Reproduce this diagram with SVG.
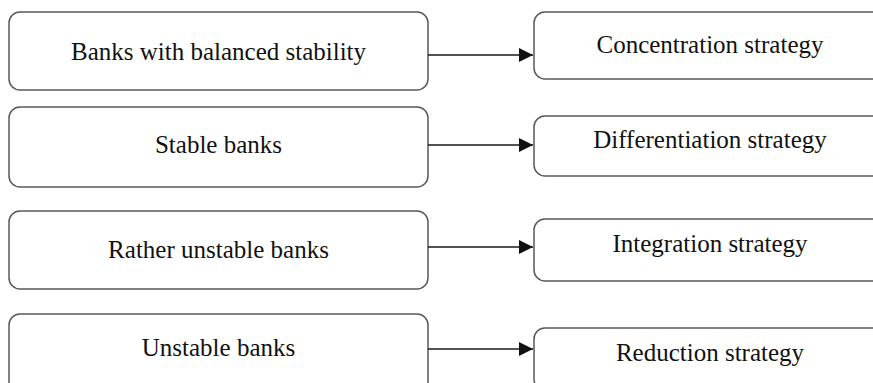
<svg xmlns="http://www.w3.org/2000/svg" width="873" height="383" viewBox="0 0 873 383">
  <style>
    .box { fill: #ffffff; stroke: #595959; stroke-width: 1.5; }
    .lbl { font-family: "Liberation Serif", "Times New Roman", serif; font-size: 25px; fill: #111111; text-anchor: middle; }
    .link { stroke: #1a1a1a; stroke-width: 1.4; fill: none; marker-end: url(#head); }
  </style>
  <defs>
    <marker id="head" markerUnits="userSpaceOnUse" markerWidth="15" markerHeight="15" refX="14" refY="7" orient="auto">
      <path d="M0,0 L14,7 L0,14 Z" fill="#111111"/>
    </marker>
  </defs>
  <rect width="873" height="383" fill="#ffffff"/>

  <!-- stability groups -->
  <g id="balanced">
    <rect class="box" x="9" y="12" width="419" height="78" rx="11"/>
    <text class="lbl" x="218.5" y="60">Banks with balanced stability</text>
  </g>
  <g id="stable">
    <rect class="box" x="9" y="107" width="419" height="80" rx="11"/>
    <text class="lbl" x="218.5" y="153">Stable banks</text>
  </g>
  <g id="rather-unstable">
    <rect class="box" x="9" y="211" width="419" height="78" rx="11"/>
    <text class="lbl" x="218.5" y="258">Rather unstable banks</text>
  </g>
  <g id="unstable">
    <rect class="box" x="9" y="314" width="419" height="80" rx="11"/>
    <text class="lbl" x="218.5" y="356">Unstable banks</text>
  </g>

  <!-- strategies -->
  <g id="concentration">
    <rect class="box" x="534" y="12" width="352" height="67" rx="11"/>
    <text class="lbl" x="710" y="53">Concentration strategy</text>
  </g>
  <g id="differentiation">
    <rect class="box" x="534" y="116" width="352" height="60" rx="11"/>
    <text class="lbl" x="710" y="148">Differentiation strategy</text>
  </g>
  <g id="integration">
    <rect class="box" x="534" y="219" width="352" height="62" rx="11"/>
    <text class="lbl" x="710" y="252">Integration strategy</text>
  </g>
  <g id="reduction">
    <rect class="box" x="534" y="328" width="352" height="62" rx="11"/>
    <text class="lbl" x="710" y="361">Reduction strategy</text>
  </g>

  <!-- connectors -->
  <g id="connectors">
    <line class="link" x1="428" y1="55" x2="533" y2="55"/>
    <line class="link" x1="428" y1="145" x2="533" y2="145"/>
    <line class="link" x1="428" y1="247" x2="533" y2="247"/>
    <line class="link" x1="428" y1="349" x2="533" y2="349"/>
  </g>
</svg>
